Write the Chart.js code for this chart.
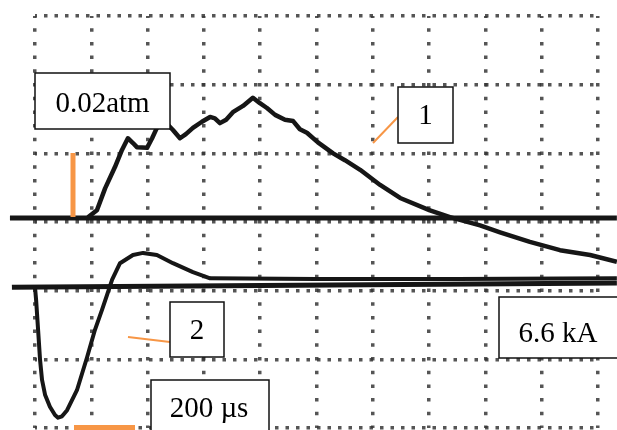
<!DOCTYPE html>
<html>
<head>
<meta charset="utf-8">
<script src="https://cdn.jsdelivr.net/npm/chart.js@4/dist/chart.umd.min.js"></script>
<style>
  html, body { margin: 0; padding: 0; background: #fff; }
  #scope { display: block; }
</style>
</head>
<body>
<canvas id="scope" width="617" height="430"></canvas>
<script>
'use strict';

// time in µs (200 µs per division), level in screen divisions from the bottom grid line
const trace1Time = [188, 220, 249, 284, 309, 330, 348, 362, 398, 416, 433, 462, 490, 515, 536, 561,
  593, 622, 639, 657, 679, 703, 739, 774, 799, 824, 853, 888, 917, 941, 966, 1005, 1059, 1101,
  1155, 1226, 1297, 1403, 1474, 1581, 1652, 1758, 1865, 1972, 2067];
const trace1Level = [3.07, 3.17, 3.49, 3.80, 4.05, 4.22, 4.15, 4.09, 4.08, 4.22, 4.37, 4.46, 4.34, 4.22, 4.28, 4.37,
  4.46, 4.53, 4.51, 4.44, 4.49, 4.60, 4.69, 4.81, 4.73, 4.66, 4.56, 4.49, 4.47, 4.35, 4.30, 4.16, 4.00, 3.90,
  3.76, 3.54, 3.35, 3.17, 3.07, 2.95, 2.85, 2.71, 2.59, 2.52, 2.42];

const trace2Time = [0, 4, 11, 18, 25, 36, 53, 71, 82, 96, 114, 149, 185, 213, 238, 256, 274,
  302, 348, 384, 433, 490, 561, 622, 1000, 1500, 2067];
const trace2Level = [2.05, 1.86, 1.43, 0.99, 0.70, 0.48, 0.31, 0.19, 0.15, 0.17, 0.26, 0.55, 1.03, 1.43, 1.72, 1.94, 2.16,
  2.40, 2.52, 2.55, 2.52, 2.40, 2.27, 2.18, 2.17, 2.17, 2.18];

const baseline1Time = [-89, 2067];
const baseline1Level = [3.06, 3.06];
const baseline2Time = [-82, 2067];
const baseline2Level = [2.05, 2.11];

const timeMin = 0, timeMax = 2000, timeStep = 200;
const levelMin = 0, levelMax = 6, levelStep = 1;

function toPoints(xs, ys) {
  return xs.map((x, i) => ({ x: x, y: ys[i] }));
}

function traceSet(xs, ys, width) {
  return {
    data: toPoints(xs, ys),
    borderColor: '#161616',
    borderWidth: width,
    pointRadius: 0,
    tension: 0,
    clip: false,
    borderJoinStyle: 'round'
  };
}

// boxes, leaders and scale bars laid over the traces (canvas pixels)
const overlay = {
  id: 'overlay',
  afterDatasetsDraw(chart) {
    const ctx = chart.ctx;
    ctx.save();

    ctx.strokeStyle = '#f79646';
    ctx.lineCap = 'butt';
    ctx.lineWidth = 5;
    ctx.beginPath();
    ctx.moveTo(73, 153); ctx.lineTo(73, 217);
    ctx.stroke();
    ctx.fillStyle = '#f79646';
    ctx.fillRect(74, 425, 61, 6);

    ctx.lineWidth = 2;
    ctx.beginPath();
    ctx.moveTo(373, 143); ctx.lineTo(398, 117);
    ctx.moveTo(128, 337); ctx.lineTo(170, 342);
    ctx.stroke();

    const boxes = [
      { text: '0.02atm', x: 35, y: 73, w: 135, h: 56, tx: 102.5, ty: 112 },
      { text: '1', x: 398, y: 87, w: 55, h: 56, tx: 425.5, ty: 124 },
      { text: '2', x: 170, y: 302, w: 54, h: 55, tx: 197, ty: 339 },
      { text: '6.6 kA', x: 499, y: 297, w: 125, h: 61, tx: 558, ty: 342 },
      { text: '200 µs', x: 151, y: 380, w: 118, h: 60, tx: 209, ty: 417 }
    ];
    ctx.font = '29px "Liberation Serif", "Times New Roman", serif';
    ctx.textAlign = 'center';
    ctx.textBaseline = 'alphabetic';
    boxes.forEach(b => {
      ctx.fillStyle = '#fff';
      ctx.fillRect(b.x, b.y, b.w, b.h);
      ctx.strokeStyle = '#111';
      ctx.lineWidth = 1.5;
      ctx.strokeRect(b.x, b.y, b.w, b.h);
      ctx.fillStyle = '#000';
      ctx.fillText(b.text, b.tx, b.ty);
    });
    ctx.restore();
  }
};

const chart = new Chart(document.getElementById('scope'), {
  type: 'line',
  data: {
    datasets: [
      traceSet(baseline1Time, baseline1Level, 5),
      traceSet(baseline2Time, baseline2Level, 5),
      traceSet(trace2Time, trace2Level, 4),
      traceSet(trace1Time, trace1Level, 4.5)
    ]
  },
  options: {
    responsive: false,
    animation: false,
    layout: { padding: { left: 35, right: 19, top: 16, bottom: 2 } },
    plugins: { legend: { display: false }, tooltip: { enabled: false } },
    scales: {
      x: {
        type: 'linear',
        min: timeMin,
        max: timeMax,
        ticks: { stepSize: timeStep, display: false },
        border: { display: false, dash: [3.5, 10.2], dashOffset: 1.5 },
        grid: {
          color: 'rgba(55,55,55,0.85)',
          lineWidth: 3.5,
          drawTicks: false
        }
      },
      y: {
        type: 'linear',
        min: levelMin,
        max: levelMax,
        ticks: { stepSize: levelStep, display: false },
        border: { display: false, dash: [3.5, 7], dashOffset: 1.5 },
        grid: {
          color: 'rgba(55,55,55,0.85)',
          lineWidth: 3.5,
          drawTicks: false
        }
      }
    }
  },
  plugins: [overlay]
});
</script>
</body>
</html>
